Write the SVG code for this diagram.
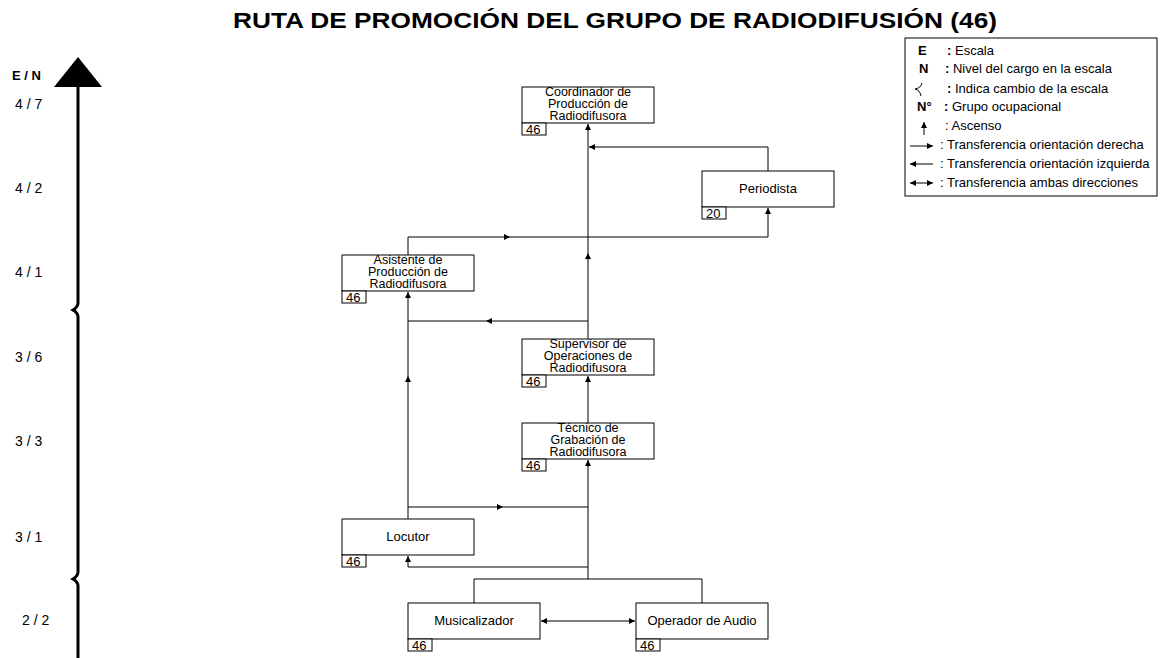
<svg xmlns="http://www.w3.org/2000/svg" width="1161" height="658" viewBox="0 0 1161 658">
<style>
text{font-family:"Liberation Sans",Arial,sans-serif;fill:#000}
.box{fill:#fff;stroke:#000;stroke-width:1}
.tag{fill:#fff;stroke:#000;stroke-width:1}
.t{font-size:13px;text-anchor:middle}
.m{font-size:12.5px;text-anchor:middle}
.n{font-size:13px}
.ax{font-size:14px}
.lg{font-size:13px}
.b{font-weight:bold}
.c{fill:none;stroke:#000;stroke-width:1}
</style>
<defs>
<marker id="ah" viewBox="0 0 6 6" markerWidth="6" markerHeight="6" refX="6" refY="3" orient="auto-start-reverse" markerUnits="userSpaceOnUse">
<path d="M0,0 L6,3 L0,6 z" fill="#000"/>
</marker>
</defs>
<rect width="1161" height="658" fill="#fff"/>
<text x="615" y="28" font-size="22" font-weight="bold" text-anchor="middle" textLength="764" lengthAdjust="spacingAndGlyphs">RUTA DE PROMOCIÓN DEL GRUPO DE RADIODIFUSIÓN (46)</text>

<g id="axis">
<path d="M78,86 L78,303 Q78,307 73,310 Q78,313 78,317 L78,572 Q78,576 73,579 Q78,582 78,586 L78,658" fill="none" stroke="#000" stroke-width="3"/>
<path d="M78,57 L102,87 L54,87 z" fill="#000"/>
<text x="12" y="80" font-size="13" font-weight="bold">E / N</text>
<text class="ax" x="15" y="109">4 / 7</text>
<text class="ax" x="15" y="193">4 / 2</text>
<text class="ax" x="15" y="277">4 / 1</text>
<text class="ax" x="15" y="362">3 / 6</text>
<text class="ax" x="15" y="446">3 / 3</text>
<text class="ax" x="15" y="542">3 / 1</text>
<text class="ax" x="22" y="625">2 / 2</text>
</g>

<g id="legend">
<rect x="905" y="38" width="252" height="158" fill="#fff" stroke="#000"/>
<text class="lg b" x="918" y="55">E</text>
<text class="lg" x="947" y="55"><tspan font-weight="bold">:</tspan> Escala</text>
<text class="lg b" x="919" y="73">N</text>
<text class="lg" x="945" y="73"><tspan font-weight="bold">:</tspan> Nivel del cargo en la escala</text>
<path d="M922,83 Q921,88 915,89 Q920,90 921,96" fill="none" stroke="#000" stroke-width="1"/>
<text class="lg" x="947" y="93"><tspan font-weight="bold">:</tspan> Indica cambio de la escala</text>
<text class="lg b" x="917" y="111">N°</text>
<text class="lg" x="944" y="111"><tspan font-weight="bold">:</tspan> Grupo ocupacional</text>
<line class="c" x1="924" y1="135" x2="924" y2="122" marker-end="url(#ah)"/>
<text class="lg" x="945" y="130">: Ascenso</text>
<line class="c" x1="910" y1="146" x2="933" y2="146" marker-end="url(#ah)"/>
<text class="lg" x="940" y="149">: Transferencia orientación derecha</text>
<line class="c" x1="933" y1="164" x2="910" y2="164" marker-end="url(#ah)"/>
<text class="lg" x="940" y="168">: Transferencia orientación izquierda</text>
<line class="c" x1="910" y1="183" x2="933" y2="183" marker-start="url(#ah)" marker-end="url(#ah)"/>
<text class="lg" x="940" y="187">: Transferencia ambas direcciones</text>
</g>

<g id="connectors">
<path class="c" d="M588,579 L588,460" marker-end="url(#ah)"/>
<path class="c" d="M588,423 L588,376" marker-end="url(#ah)"/>
<path class="c" d="M588,339 L588,253" marker-end="url(#ah)"/>
<path class="c" d="M588,253 L588,124" marker-end="url(#ah)"/>
<path class="c" d="M768,171 L768,147 L589,147" marker-end="url(#ah)"/>
<path class="c" d="M408,255 L408,237 L510,237" marker-end="url(#ah)"/>
<path class="c" d="M510,237 L768,237 L768,208" marker-end="url(#ah)"/>
<path class="c" d="M588,321 L486,321" marker-end="url(#ah)"/>
<path class="c" d="M486,321 L408,321"/>
<path class="c" d="M408,519 L408,376" marker-end="url(#ah)"/>
<path class="c" d="M408,376 L408,292" marker-end="url(#ah)"/>
<path class="c" d="M408,507 L503,507" marker-end="url(#ah)"/>
<path class="c" d="M503,507 L588,507"/>
<path class="c" d="M588,567 L408,567 L408,556" marker-end="url(#ah)"/>
<path class="c" d="M474,603 L474,579 L702,579 L702,603"/>
<path class="c" d="M541,621 L635,621" marker-start="url(#ah)" marker-end="url(#ah)"/>
</g>

<g id="coordinador">
<rect class="box" x="522" y="87" width="132" height="36"/>
<text class="m" x="588" y="95.5">Coordinador de</text>
<text class="m" x="588" y="107.5">Producción de</text>
<text class="m" x="588" y="119.5">Radiodifusora</text>
<rect class="tag" x="522" y="123" width="24" height="12"/>
<text class="n" x="526" y="134">46</text>
</g>

<g id="periodista">
<rect class="box" x="702" y="171" width="132" height="36"/>
<text class="t" x="768" y="193">Periodista</text>
<rect class="tag" x="702" y="207" width="24" height="12"/>
<text class="n" x="706" y="218">20</text>
</g>

<g id="asistente">
<rect class="box" x="342" y="255" width="132" height="36"/>
<text class="m" x="408" y="263.5">Asistente de</text>
<text class="m" x="408" y="275.5">Producción de</text>
<text class="m" x="408" y="287.5">Radiodifusora</text>
<rect class="tag" x="342" y="291" width="24" height="12"/>
<text class="n" x="346" y="302">46</text>
</g>

<g id="supervisor">
<rect class="box" x="522" y="339" width="132" height="36"/>
<text class="m" x="588" y="347.5">Supervisor de</text>
<text class="m" x="588" y="359.5">Operaciones de</text>
<text class="m" x="588" y="371.5">Radiodifusora</text>
<rect class="tag" x="522" y="375" width="24" height="12"/>
<text class="n" x="526" y="386">46</text>
</g>

<g id="tecnico">
<rect class="box" x="522" y="423" width="132" height="36"/>
<text class="m" x="588" y="431.5">Técnico de</text>
<text class="m" x="588" y="443.5">Grabación de</text>
<text class="m" x="588" y="455.5">Radiodifusora</text>
<rect class="tag" x="522" y="459" width="24" height="12"/>
<text class="n" x="526" y="470">46</text>
</g>

<g id="locutor">
<rect class="box" x="342" y="519" width="132" height="36"/>
<text class="t" x="408" y="541">Locutor</text>
<rect class="tag" x="342" y="555" width="24" height="12"/>
<text class="n" x="346" y="566">46</text>
</g>

<g id="musicalizador">
<rect class="box" x="408" y="603" width="132" height="36"/>
<text class="t" x="474" y="625">Musicalizador</text>
<rect class="tag" x="408" y="639" width="24" height="12"/>
<text class="n" x="412" y="650">46</text>
</g>

<g id="operador">
<rect class="box" x="636" y="603" width="132" height="36"/>
<text class="t" x="702" y="625">Operador de Audio</text>
<rect class="tag" x="636" y="639" width="24" height="12"/>
<text class="n" x="640" y="650">46</text>
</g>
</svg>
